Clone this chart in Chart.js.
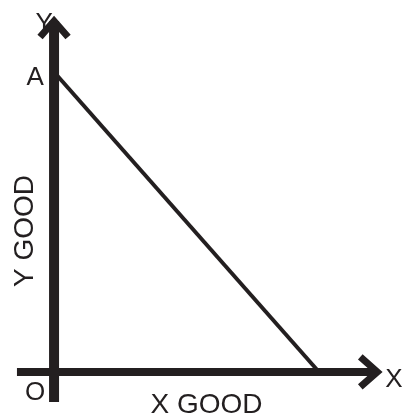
<!DOCTYPE html>
<html>
<head>
<meta charset="utf-8">
<script src="https://cdn.jsdelivr.net/npm/chart.js@4"></script>
<style>
  html, body { margin: 0; padding: 0; background: #fff; }
  #wrap { width: 403px; height: 419px; }
</style>
</head>
<body>
<div id="wrap"><canvas id="myChart"></canvas></div>
<script>
// budget line: intercepts on both axes
const budgetX = [0, 10];
const budgetY = [10, 0];
// how far each axis line runs (data units)
const xAxisSpan = [-1.4, 12.2];
const yAxisSpan = [-1.0, 11.7];
const pointNames = ['A', 'O'];
const axisNames = ['X', 'Y'];
const axisTitles = ['X GOOD', 'Y GOOD'];

const ink = '#231f20';
const font = 'Liberation Sans, Arial, Helvetica, sans-serif';

// open chevron heads at the ends of both axes + all the lettering
const axisDecor = {
  id: 'axisDecor',
  afterDatasetsDraw(chart) {
    const ctx = chart.ctx;
    const xs = chart.scales.x, ys = chart.scales.y;
    const ox = xs.getPixelForValue(0), oy = ys.getPixelForValue(0);

    ctx.save();
    ctx.strokeStyle = ink;
    ctx.lineWidth = 7;
    ctx.lineJoin = 'miter';
    ctx.lineCap = 'butt';

    let tx = xs.getPixelForValue(xAxisSpan[1]);
    ctx.beginPath();
    ctx.moveTo(tx - 17, oy - 15);
    ctx.lineTo(tx, oy);
    ctx.lineTo(tx - 17, oy + 15);
    ctx.stroke();

    let ty = ys.getPixelForValue(yAxisSpan[1]);
    ctx.beginPath();
    ctx.moveTo(ox - 14, ty + 16);
    ctx.lineTo(ox, ty);
    ctx.lineTo(ox + 14, ty + 16);
    ctx.stroke();

    ctx.fillStyle = ink;
    ctx.textBaseline = 'alphabetic';
    ctx.font = '26px ' + font;

    // A sits left of the y intercept, O below-left of the origin
    ctx.textAlign = 'center';
    ctx.fillText(pointNames[0], ox - 19, ys.getPixelForValue(budgetY[0]) + 13);
    ctx.fillText(pointNames[1], ox - 19, oy + 28);

    ctx.textAlign = 'left';
    ctx.fillText(axisNames[0], tx + 8, oy + 15);
    ctx.textAlign = 'center';
    ctx.fillText(axisNames[1], ox - 10, ty + 10);

    ctx.font = '28px ' + font;
    ctx.fillText(axisTitles[0], (ox + xs.getPixelForValue(budgetX[1])) / 2 + 20, oy + 41);

    ctx.translate(ox - 21, (oy + ys.getPixelForValue(budgetY[0])) / 2 + 9);
    ctx.rotate(-Math.PI / 2);
    ctx.fillText(axisTitles[1], 0, 0);
    ctx.restore();
  }
};

const ctx = document.getElementById('myChart');

new Chart(ctx, {
  type: 'scatter',
  data: {
    datasets: [{
      // x axis line
      data: xAxisSpan.map(v => ({ x: v, y: 0 })),
      showLine: true,
      borderColor: ink,
      borderWidth: 8,
      pointRadius: 0,
      clip: false
    }, {
      // y axis line
      data: yAxisSpan.map(v => ({ x: 0, y: v })),
      showLine: true,
      borderColor: ink,
      borderWidth: 10,
      pointRadius: 0,
      clip: false
    }, {
      data: budgetX.map((v, i) => ({ x: v, y: budgetY[i] })),
      showLine: true,
      borderColor: ink,
      borderWidth: 4,
      pointRadius: 0,
      clip: false
    }]
  },
  options: {
    responsive: true,
    maintainAspectRatio: false,
    animation: false,
    layout: { padding: 0 },
    plugins: { legend: { display: false }, tooltip: { enabled: false } },
    scales: {
      x: { type: 'linear', display: false, min: -2.04, max: 13.17 },
      y: { type: 'linear', display: false, min: -1.567, max: 12.4 }
    }
  },
  plugins: [axisDecor]
});
</script>
</body>
</html>
